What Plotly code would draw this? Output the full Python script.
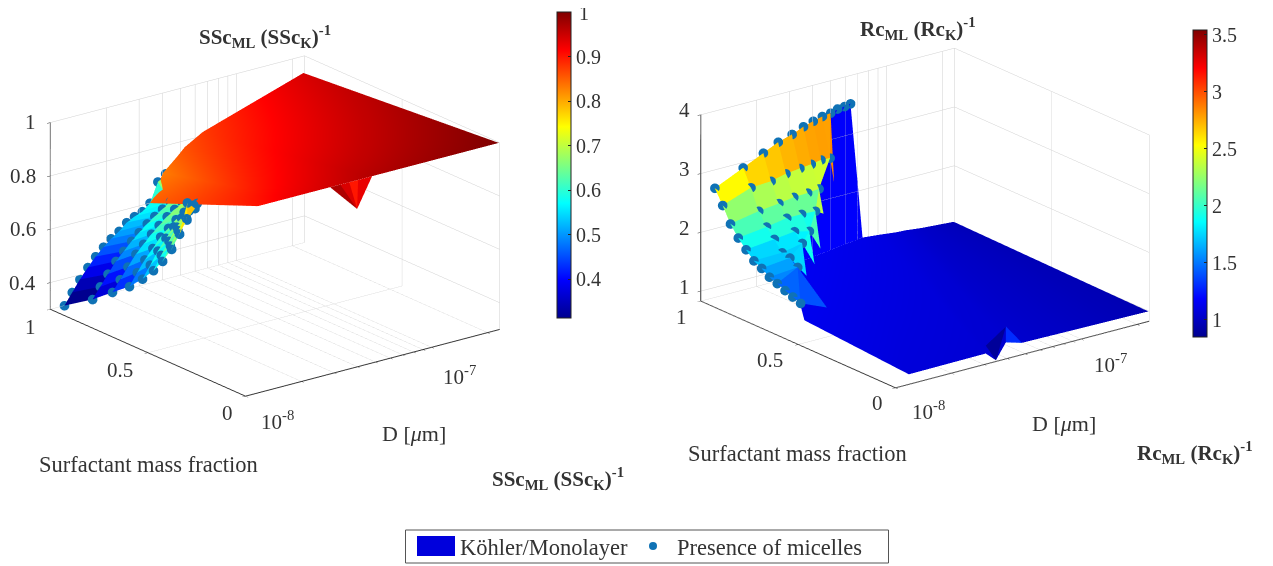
import plotly.graph_objects as go

# ---------- shared grids ----------
JET = [(0, (0, 0, 143)), (.125, (0, 0, 255)), (.375, (0, 255, 255)),
       (.625, (255, 255, 0)), (.875, (255, 0, 0)), (1, (128, 0, 0))]
D_TICKS = [1e-8, 2e-8, 3e-8, 4e-8, 5e-8, 6e-8, 7e-8, 8e-8, 9e-8, 1e-7, 2e-7]
D_RANGE = [-8, -6.634]
W, H, PAD = 1265, 558, 8

# ---------- left chart: SSc ----------
L_F = [1, .856, .754, .667, .6, .544, .497, .451, .41, .374]
L_D = [1.19e-8, 1.31e-8, 1.44e-8, 1.59e-8, 1.75e-8, 1.93e-8, 2.12e-8, 2.34e-8,
       2.57e-8, 2.83e-8, 3.12e-8, 3.43e-8, 3.78e-8, 4.16e-8]
L_Z = [[.30, .342, .383, .42, .453, .481, .505, .525, .55, .565, .576, .60, .672, .695],
       [.37, .41, .45, .49, .52, .55, .575, .60, .62, .64, .66],
       [.43, .47, .51, .55, .58, .61, .635, .66, .68, .696],
       [.48, .525, .565, .60, .635, .66, .685, .705, .72],
       [.53, .575, .62, .66, .695, .72, .74, .76],
       [.58, .63, .675, .72, .755, .78],
       [.63, .68, .73, .775, .81],
       [.69, .74, .785, .82],
       [.76, .87],
       [.83]]
SHEET_D_TOP = [3.43e-8, 4.03e-8, 4.79e-8, 5.28e-8, 6.6e-8, 2.29e-7]
SHEET_Z_TOP = [.60, .70, .747, .776, .815, .937]
SHEET_C_TOP = [.85, .83, .85, .86, .875, .94]
SHEET_D_BOT = [1.17e-8, 1.74e-8, 2.52e-8, 3.23e-8, 4.67e-8, 2.3e-7]
SHEET_Z_BOT = [1, 1, 1, 1, 1, 1]
SHEET_C_BOT = [.90, .925, .94, .95, .965, 1.0]
L_SPIKE_D = [2.85e-8, 3.23e-8, 3.61e-8, 4.03e-8, 4.79e-8]
L_SPIKE_TIP = (3.98e-8, 0, .892)
L_SPIKE_C = [.97, .94, .90, .93]
L_CRANGE = [.313, 1.001]
L_ZRANGE = [.3, 1]

# ---------- right chart: Rc ----------
R_F = [1, .96, .92, .88, .84, .80, .76, .72, .68, .64, .60, .56]
R_D = [1.19e-8, 1.69e-8, 2.17e-8, 2.61e-8, 3.10e-8, 3.57e-8, 4.03e-8, 4.51e-8,
       5.0e-8, 5.45e-8, 5.94e-8, 6.4e-8]
R_Z = [[2.69, 2.91, 3.07, 3.19, 3.26, 3.34, 3.39, 3.43, 3.45, 3.49, 3.50, 3.52],
       [2.455, 2.63, 2.65, 2.71, 2.74, 2.76, 2.79, 2.78],
       [2.20, 2.29, 2.33, 2.37, 2.38, 2.40],
       [2.02, 2.08, 2.14, 2.14, 2.13],
       [1.88, 1.93, 1.97, 1.91],
       [1.75, 1.76, 1.83],
       [1.68, 1.73],
       [1.59, 1.63],
       [1.54], [1.48], [1.43], [1.38]]
# thin spikes: (row, col), (row, col), tip (D, f, z), colour value
R_SPIKES = [((1, 7), (0, 8), (4.74e-8, .96, 2.35), 2.85),
            ((2, 5), (3, 4), (3.43e-8, .88, 2.05), 2.35),
            ((3, 4), (4, 3), (3.0e-8, .84, 1.56), 2.05),
            ((4, 3), (5, 2), (2.53e-8, .80, 1.42), 1.9),
            ((5, 2), (6, 1), (2.08e-8, .76, 1.35), 1.75),
            ((7, 1), (11, 0), (1.65e-8, .56, 1.19), 1.4),
            ((7, 1), (8, 0), (1.19e-8, .56, 1.38), 1.45)]
R_MESH_TOP_LEN = 9
WALL_D = [[4.94e-8, 6.4e-8], [3.03e-8, 7.43e-8]]
WALL_Z = [[3.45, 3.52], [1.03, 1.19]]
WALL_C = [[1.18, 1.18], [1.18, 1.18]]
PLANE_D_TOP = [3.03e-8, 7.43e-8, 9.3e-8, 1.12e-7, 1.27e-7, 1.53e-7, 2.3e-7, 2.3e-7]
PLANE_Z_TOP = [1.03, 1.19, 1.16, 1.13, 1.12, 1.09, 1.05, 1.05]
PLANE_C_TOP = [1.16, 1.12, 1.10, 1.08, 1.06, 1.03, .98, .98]
PLANE_D_BOT = [1.19e-8, 1.18e-8, 3.06e-8, 3.47e-8, 3.93e-8, 4.8e-8, 2.3e-7, 2.3e-7]
PLANE_F_BOT = [.54, 0, 0, 0, 0, 0, 0, 0]
PLANE_Z_BOT = [1.12, 1.0, 1.01, .85, 1.11, 1.03, 1.0, 1.0]
PLANE_C_BOT = [1.14, 1.08, 1.06, 1.05, 1.05, 1.04, .96, .96]
R_NOTCH = [[(3.06e-8, 0, 1.145), (3.93e-8, 0, 1.38), (3.47e-8, 0, .85), .88],
           [(3.93e-8, 0, 1.38), (4.8e-8, 0, 1.03), (3.93e-8, 0, 1.11), 1.3]]
R_CRANGE = [.85, 3.54]
R_ZRANGE = [.83, 4]


def jet(v, rng):
    t = min(1, max(0, (v - rng[0]) / (rng[1] - rng[0])))
    for (a, ca), (b, cb) in zip(JET, JET[1:]):
        if t <= b:
            u = (t - a) / (b - a)
            return 'rgb(%d,%d,%d)' % tuple(round(p + (q - p) * u) for p, q in zip(ca, cb))
    return 'rgb(128,0,0)'


def X(px):
    return (px - PAD) / W


def Y(py):
    return 1 - (py - PAD) / H


CS = [[s, 'rgb(%d,%d,%d)' % c] for s, c in JET]
FLAT = dict(ambient=1, diffuse=0, specular=0, roughness=1, fresnel=0)


def facets(Ds, Fs, Zs, crange, scene, top_len=None, extras=(), spikes=(), mode='lower'):
    """mode: 'lower' = facet colour from its lower-row vertices, 'min' = from its lowest vertex."""
    xs, ys, zs, ii, jj, kk, fc = [], [], [], [], [], [], []
    idx = {}
    rows = [list(r) for r in Zs]
    if top_len:
        rows[0] = rows[0][:top_len]
    for r, row in enumerate(Zs):
        for c, z in enumerate(row):
            idx[(r, c)] = len(xs)
            xs.append(Ds[c]); ys.append(Fs[r]); zs.append(z)

    def tri(a, b, c, col):
        ii.append(a); jj.append(b); kk.append(c); fc.append(jet(col, crange))

    def val(*keys):
        return sum(Zs[r][c] for r, c in keys) / len(keys)

    for r in range(len(rows) - 1):
        nxt = len(rows[r + 1])
        for c in range(len(rows[r]) - 1):
            if c + 1 < nxt:
                m = val((r + 1, c), (r + 1, c + 1)) if mode == 'lower' else Zs[r][c]
                tri(idx[(r, c)], idx[(r, c + 1)], idx[(r + 1, c)], m)
                tri(idx[(r, c + 1)], idx[(r + 1, c + 1)], idx[(r + 1, c)], m)
            else:
                m = val((r + 1, nxt - 1)) if mode == 'lower' else Zs[r][c]
                tri(idx[(r, c)], idx[(r, c + 1)], idx[(r + 1, nxt - 1)], m)
    for a, b, tip, col in spikes:
        xs.append(tip[0]); ys.append(tip[1]); zs.append(tip[2])
        tri(idx[a], idx[b], len(xs) - 1, col)
    for p, q, s, col in extras:
        for v in (p, q, s):
            xs.append(v[0]); ys.append(v[1]); zs.append(v[2])
        n = len(xs)
        tri(n - 3, n - 2, n - 1, col)
    return go.Mesh3d(x=xs, y=ys, z=zs, i=ii, j=jj, k=kk, facecolor=fc, flatshading=True,
                     lighting=FLAT, scene=scene, showscale=False, hoverinfo='skip')


def dots(Ds, Fs, Zs, scene):
    x, y, z = [], [], []
    for r, row in enumerate(Zs):
        for c, v in enumerate(row):
            x.append(Ds[c]); y.append(Fs[r]); z.append(v)
    return go.Scatter3d(x=x, y=y, z=z, mode='markers', scene=scene, showlegend=False,
                        marker=dict(size=5.6, color='#0f72b5', line=dict(width=0)))


def cbar(px, ytop, length, vals, text):
    return dict(x=X(px), xanchor='left', y=Y(ytop), yanchor='top', len=length, lenmode='pixels',
                thickness=14, thicknessmode='pixels', xpad=0, ypad=0, outlinecolor='#222', outlinewidth=1,
                tickvals=vals, ticktext=text, ticks='inside', ticklen=3, tickcolor='#222',
                tickfont=dict(family='Liberation Serif', size=20, color='#333'))


fig = go.Figure()
# left
fig.add_trace(facets(L_D, L_F, L_Z, L_CRANGE, 'scene', mode='min'))
fig.add_trace(go.Surface(x=[SHEET_D_TOP, SHEET_D_BOT], y=[[1] * 6, [0] * 6], z=[SHEET_Z_TOP, SHEET_Z_BOT],
                         surfacecolor=[SHEET_C_TOP, SHEET_C_BOT], cmin=L_CRANGE[0], cmax=L_CRANGE[1],
                         colorscale=CS, lighting=FLAT, scene='scene', hoverinfo='skip',
                         colorbar=cbar(557, 12, 306, [.4, .5, .6, .7, .8, .9, 1],
                                       ['0.4', '0.5', '0.6', '0.7', '0.8', '0.9', '1'])))
sx, sy, sz, si, sj, sk, sc = [], [], [], [], [], [], []
for n, d in enumerate(L_SPIKE_D):
    sx.append(d); sy.append(0); sz.append(1)
tip_i = len(sx)
sx.append(L_SPIKE_TIP[0]); sy.append(L_SPIKE_TIP[1]); sz.append(L_SPIKE_TIP[2])
for n, c in enumerate(L_SPIKE_C):
    si.append(n); sj.append(n + 1); sk.append(tip_i); sc.append(jet(c, L_CRANGE))
fig.add_trace(go.Mesh3d(x=sx, y=sy, z=sz, i=si, j=sj, k=sk, facecolor=sc, flatshading=True,
                        lighting=FLAT, scene='scene', hoverinfo='skip'))
fig.add_trace(dots(L_D, L_F, L_Z, 'scene'))

# right
fig.add_trace(go.Surface(x=WALL_D, y=[[1, 1], [1, 1]], z=WALL_Z, surfacecolor=WALL_C,
                         cmin=R_CRANGE[0], cmax=R_CRANGE[1], colorscale=CS, lighting=FLAT,
                         scene='scene2', hoverinfo='skip', showscale=False))
fig.add_trace(go.Surface(x=[PLANE_D_TOP, PLANE_D_BOT], y=[[1] * 8, PLANE_F_BOT], z=[PLANE_Z_TOP, PLANE_Z_BOT],
                         surfacecolor=[PLANE_C_TOP, PLANE_C_BOT], cmin=R_CRANGE[0], cmax=R_CRANGE[1],
                         colorscale=CS, lighting=FLAT, scene='scene2', hoverinfo='skip',
                         colorbar=cbar(1193, 30, 307, [1, 1.5, 2, 2.5, 3, 3.5],
                                       ['1', '1.5', '2', '2.5', '3', '3.5'])))
fig.add_trace(facets(R_D, R_F, R_Z, R_CRANGE, 'scene2', top_len=R_MESH_TOP_LEN,
                     extras=R_NOTCH, spikes=R_SPIKES, mode='lower'))
fig.add_trace(dots(R_D, R_F, R_Z, 'scene2'))


def scene(dom_x, dom_y, zr, ztick, k):
    ax = dict(showline=True, linecolor='#333', linewidth=2, gridcolor='#d0d0d0', gridwidth=1,
              showbackground=False, showspikes=False, zeroline=False, showticklabels=False,
              ticks='outside', ticklen=4, tickcolor='#333', title=dict(text=''))
    return dict(domain=dict(x=[max(0, X(dom_x[0])), X(dom_x[1])], y=[Y(dom_y[1]), Y(dom_y[0])]),
                xaxis=dict(ax, type='log', range=D_RANGE, tickmode='array', tickvals=D_TICKS),
                yaxis=dict(ax, range=[0, 1], tickmode='array', tickvals=[0, .5, 1]),
                zaxis=dict(ax, range=zr, tickmode='array', tickvals=ztick),
                aspectmode='manual', aspectratio=dict(x=k, y=k, z=.62 * k),
                camera=dict(projection=dict(type='orthographic'), up=dict(x=0, y=0, z=1),
                            center=dict(x=0, y=0, z=0),
                            eye=dict(x=-.609 * .94 * 2, y=-.793 * .94 * 2, z=.342 * 2)))


def txt(s, px, py, size=21, xa='center'):
    return dict(text=s, x=X(px), y=Y(py), xref='paper', yref='paper', xanchor=xa, yanchor='middle',
                showarrow=False, font=dict(family='Liberation Serif', size=size, color='#333'))


SSC = '<b>SSc<sub>ML</sub> (SSc<sub>K</sub>)<sup>-1</sup></b>'
RC = '<b>Rc<sub>ML</sub> (Rc<sub>K</sub>)<sup>-1</sup></b>'
MU = 'D [<i>\u03bc</i>m]'
ann = [txt(SSC, 265, 37, 21), txt(RC, 918, 28, 21), txt(SSC, 558, 478, 21), txt(RC, 1195, 452, 21),
       txt('Surfactant mass fraction', 148, 464, 22.5), txt('Surfactant mass fraction', 798, 453, 22.5),
       txt(MU, 414, 433, 22), txt(MU, 1064, 423, 22), txt('1', 577, 13, 20, 'left')]
for s, x, y in [('1', 38, 122), ('0.8', 38, 176), ('0.6', 38, 229), ('0.4', 38, 283),
                ('4', 692, 110), ('3', 692, 169), ('2', 692, 228), ('1', 692, 287)]:
    ann.append(txt(s, x, y, 21, 'right'))
for s, x, y in [('1', 30, 327), ('0.5', 120, 370), ('0', 227, 413), ('10<sup>-8</sup>', 277, 420), ('10<sup>-7</sup>', 459, 375),
                ('1', 681, 317), ('0.5', 770, 360), ('0', 877, 403), ('10<sup>-8</sup>', 928, 410), ('10<sup>-7</sup>', 1110, 363)]:
    ann.append(txt(s, x, y))
ann.append(txt('K\u00f6hler/Monolayer', 458, 547, 22.5, 'left'))
ann.append(txt('Presence of micelles', 675, 547, 22.5, 'left'))

shapes = [dict(type='rect', xref='paper', yref='paper', x0=X(405.5), x1=X(888.5), y0=Y(563), y1=Y(530),
               line=dict(color='#555', width=1), fillcolor='white'),
          dict(type='rect', xref='paper', yref='paper', x0=X(417), x1=X(455), y0=Y(556), y1=Y(536),
               line=dict(width=0), fillcolor='#0000dc'),
          dict(type='circle', xref='paper', yref='paper', x0=X(649), x1=X(657), y0=Y(550), y1=Y(542),
               line=dict(width=0), fillcolor='#0f72b5')]

fig.update_layout(width=W, height=H, margin=dict(l=0, r=0, t=0, b=0), paper_bgcolor='white',
                  showlegend=False, annotations=ann, shapes=shapes,
                  scene=scene((8, 542), (8, 444), L_ZRANGE, [.4, .6, .8, 1], 1.47),
                  scene2=scene((675, 1175), (8, 428), R_ZRANGE, [1, 2, 3, 4], 1.523))
fig.write_html('out.html')
